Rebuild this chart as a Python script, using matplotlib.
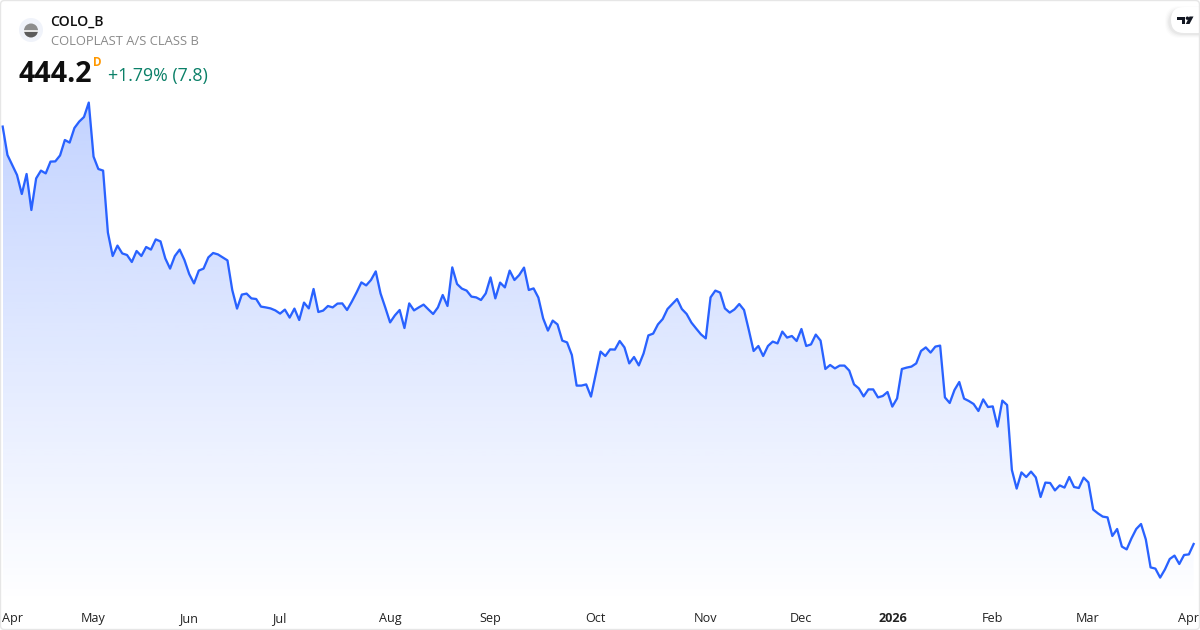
import matplotlib
matplotlib.use("Agg")
import matplotlib.pyplot as plt
from matplotlib.patches import Circle, FancyBboxPatch, Polygon, Rectangle, Wedge
import numpy as np

plt.rcParams['font.family'] = ['Open Sans', 'DejaVu Sans']

# daily closes
closes_apr_jun = [652.9, 638.7, 633.7, 628.7, 619.2, 629.2, 611.2, 627.0, 630.9, 629.5, 635.4, 635.5, 638.5,
                  646.2, 644.9, 652.2, 655.4, 657.7, 664.9, 637.9, 631.7, 630.9, 599.9, 588.2, 593.4, 589.5,
                  588.7, 585.2, 590.7, 588.2, 592.7, 591.4, 596.5, 595.5, 587.0, 581.9, 588.2, 591.4, 586.2,
                  579.2, 574.5, 580.9, 581.9, 587.5, 589.7, 589.0, 587.5, 586.0, 571.2, 561.9, 568.9, 569.4,
                  567.0, 566.7, 562.9, 562.5, 562.0, 561.0, 559.4, 561.4, 557.4, 561.9, 556.2]
closes_jul_sep = [564.9, 562.0, 571.7, 560.2, 560.9, 563.2, 562.5, 564.4, 564.5, 561.2, 565.4, 570.0, 575.0,
                  573.5, 576.2, 580.5, 569.5, 562.4, 555.0, 558.5, 561.2, 552.2, 564.5, 561.0, 562.5, 563.9,
                  561.5, 559.2, 562.5, 568.7, 563.2, 582.5, 574.2, 571.9, 570.9, 567.9, 567.5, 566.2, 569.5,
                  577.5, 567.0, 574.9, 572.5, 580.9, 576.2, 578.7, 582.4, 571.2, 572.0, 567.4, 557.0, 550.9,
                  555.9, 554.0, 545.9, 545.0, 538.7, 523.4, 523.4, 524.0, 517.9, 529.2]
closes_oct_dec = [540.4, 538.2, 541.5, 541.4, 545.7, 542.5, 534.5, 537.7, 533.5, 539.5, 548.5, 549.4, 554.0,
                  556.7, 561.7, 564.2, 566.7, 561.7, 559.2, 554.9, 551.9, 549.0, 547.0, 567.5, 570.9, 569.9,
                  562.0, 559.9, 561.5, 564.2, 561.2, 551.2, 540.7, 543.2, 538.2, 543.2, 545.4, 544.5, 550.4,
                  547.4, 548.2, 545.7, 551.7, 543.2, 544.0, 548.9, 545.9, 531.7, 533.7, 532.0, 533.4, 533.4,
                  530.9, 524.0, 522.0, 518.0, 521.5, 521.5, 517.5, 518.2, 520.2, 512.9, 517.0]
closes_jan_apr = [531.7, 532.4, 532.9, 534.5, 540.7, 542.5, 539.9, 542.9, 543.4, 517.5, 514.7, 521.2, 525.2,
                  516.9, 515.7, 514.2, 510.7, 516.5, 512.7, 513.0, 502.9, 515.9, 513.7, 481.2, 471.9, 480.0,
                  477.7, 480.4, 477.5, 467.7, 474.9, 474.7, 471.0, 473.5, 472.4, 477.7, 472.7, 472.2, 477.4,
                  475.0, 461.4, 459.5, 457.9, 457.5, 448.2, 451.7, 442.9, 441.5, 447.0, 451.7, 454.2, 446.5,
                  432.5, 431.9, 427.4, 431.5, 436.7, 438.4, 434.2, 438.7, 439.0, 444.2]
month_bars = [0, 19, 38.9, 57.8, 81, 102, 124, 147, 167, 186, 207, 226.8, 248]
month_labels = ['Apr', 'May', 'Jun', 'Jul', 'Aug', 'Sep', 'Oct', 'Nov', 'Dec', '2026', 'Feb', 'Mar', 'Apr']

closes = np.array(closes_apr_jun + closes_jul_sep + closes_oct_dec + closes_jan_apr)
bars = np.arange(len(closes))

W, H = 1200, 630
fig = plt.figure(figsize=(12, 6.3), dpi=100, facecolor='white')

# chart axes fill the whole card, limits chosen so the line lands where it does in the picture
ax = fig.add_axes([0, 0, 1, 1])
ax.axis('off')

# area under the line, gradient top to bottom
base = 414.2
top = closes.max()
n = 256
grad = np.zeros((n, 1, 4))
grad[:, 0, 0] = 41 / 255
grad[:, 0, 1] = 98 / 255
grad[:, 0, 2] = 1.0
grad[:, 0, 3] = np.linspace(0.28, 0.0, n)
im = ax.imshow(grad, extent=[bars[0], bars[-1], base, top], aspect='auto', origin='upper', zorder=1)
ax.set_xlim(-2.67 / 4.783, (W - 2.67) / 4.783)
ax.set_ylim(401.2, 716.2)
poly = Polygon(list(zip(bars, closes)) + [(bars[-1], base), (bars[0], base)], closed=True,
               transform=ax.transData, facecolor='none', edgecolor='none')
ax.add_patch(poly)
im.set_clip_path(poly)

ax.plot(bars, closes, color='#2962ff', lw=1.65, solid_joinstyle='round', zorder=3)

# overlay in pixel coordinates for header, logo and frame
ov = fig.add_axes([0, 0, 1, 1], facecolor='none')
ov.set_xlim(0, W)
ov.set_ylim(H, 0)
ov.axis('off')

# x labels
label_color = '#222222'
for b, lab in zip(month_bars, month_labels):
    px = 2.67 + 4.783 * b
    if b == 0:
        ov.text(1.5, 622, lab, fontsize=9.1, color=label_color, ha='left', va='baseline')
    elif b == month_bars[-1]:
        ov.text(1199, 622, lab, fontsize=9.1, color=label_color, ha='right', va='baseline')
    elif lab == '2026':
        ov.text(px + 1, 622, lab, fontsize=9.1, color=label_color, ha='center', va='baseline', fontweight='bold')
    else:
        ov.text(px, 622, lab, fontsize=9.1, color=label_color, ha='center', va='baseline')

# header
ov.add_patch(Circle((31, 30), 12, facecolor='#f0f3fa', edgecolor='none', zorder=4))
ov.add_patch(Wedge((31, 30.5), 7, 180, 360, facecolor='#8d8d8d', edgecolor='none', zorder=5))
ov.add_patch(Wedge((31, 30.5), 7, 0, 180, facecolor='#5c5c5c', edgecolor='none', zorder=5))
ov.add_patch(Rectangle((24, 29.5), 14, 2, facecolor='#e4e4e4', edgecolor='none', zorder=6))
ov.text(50.5, 25.5, 'COLO_B', fontsize=10.1, fontweight='semibold', color='#0f0f0f', va='baseline', ha='left')
ov.text(51, 45, 'COLOPLAST A/S CLASS B', fontsize=9.4, color='#8a8a8a', va='baseline', ha='left')
ov.text(18.5, 81.5, '444.2', fontsize=20.5, fontweight='bold', color='#0f0f0f', va='baseline', ha='left')
ov.text(93, 66, 'D', fontsize=8.4, fontweight='bold', color='#ff9800', va='baseline', ha='left')
ov.text(108, 80.5, '+1.79% (7.8)', fontsize=12.75, color='#0b8068', va='baseline', ha='left')

# TV badge top right
for i, a in enumerate([0.012, 0.018, 0.025, 0.035]):
    ov.add_patch(FancyBboxPatch((1165 + i, 6 + i), 50, 32 - 2 * i, boxstyle='round,pad=0,rounding_size=15',
                                facecolor='black', alpha=a, edgecolor='none', zorder=6, mutation_aspect=1))
ov.add_patch(FancyBboxPatch((1171, 7), 40, 26, boxstyle='round,pad=0,rounding_size=13',
                            facecolor='white', edgecolor='none', zorder=7))
ov.add_patch(Polygon([(1177, 16.5), (1185, 16.5), (1185, 24), (1181.5, 24), (1181.5, 20), (1177, 20)],
                     closed=True, facecolor='#131722', edgecolor='none', zorder=8))
ov.add_patch(Circle((1187.4, 18.2), 1.7, facecolor='#131722', edgecolor='none', zorder=8))
ov.add_patch(Polygon([(1189.5, 16.5), (1193.5, 16.5), (1189.5, 24), (1185.8, 24)],
                     closed=True, facecolor='#131722', edgecolor='none', zorder=8))

# card border
ov.add_patch(FancyBboxPatch((0.5, 0.5), W - 1, H - 1, boxstyle='round,pad=0,rounding_size=4',
                            facecolor='none', edgecolor='#e6e6e6', lw=1, zorder=9))

fig.savefig('out.png', dpi=100)
